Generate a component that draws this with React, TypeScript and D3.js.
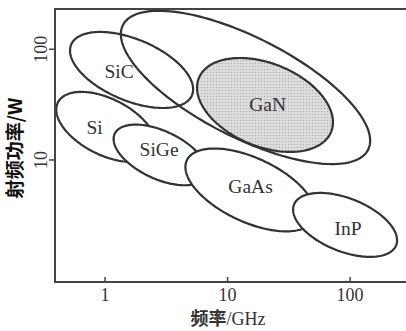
import React from 'react';
import * as d3 from 'd3';

const W = 406;
const H = 331;
const margin = { top: 9, right: 0, bottom: 49, left: 55 };

// axes (log-log)
const xDomain = [0.39, 286]; // GHz
const yDomain = [0.79, 231]; // W
const xTicks = [1, 10, 100];
const yTicks = [10, 100];

// regions, drawn back to front
const regionNames = ['GaN-range', 'SiC', 'GaN', 'Si', 'SiGe', 'GaAs', 'InP'];
const centerFreq = [14.0, 1.645, 20.2, 1.019, 2.81, 15.3, 91.0]; // GHz
const centerPower = [45.2, 65.0, 31.4, 19.9, 11.1, 5.36, 2.59]; // W
const spanMajor = [1.149, 0.544, 0.593, 0.452, 0.417, 0.583, 0.456]; // decades
const spanMinor = [0.441, 0.273, 0.369, 0.247, 0.212, 0.283, 0.236]; // decades
const tilt = [-30.2, -26.3, -26.8, -31.4, -28.9, -28.7, -25.3]; // deg in log-log plane

// labels
const labelText = ['SiC', 'GaN', 'Si', 'SiGe', 'GaAs', 'InP'];
const labelFreq = [1.3, 21.2, 0.821, 2.76, 15.4, 96.3];
const labelPower = [62.4, 31.7, 19.7, 12.3, 5.76, 2.41];

export default function App() {
  const x = d3.scaleLog().domain(xDomain).range([margin.left, W - margin.right]);
  const y = d3.scaleLog().domain(yDomain).range([H - margin.bottom, margin.top]);
  const line = d3.line().curve(d3.curveLinearClosed);

  const ellipsePath = (i) => {
    const cx = Math.log10(centerFreq[i]);
    const cy = Math.log10(centerPower[i]);
    const phi = (tilt[i] * Math.PI) / 180;
    const pts = d3.range(0, 2 * Math.PI, Math.PI / 90).map((t) => {
      const u = spanMajor[i] * Math.cos(t);
      const v = spanMinor[i] * Math.sin(t);
      const lx = cx + u * Math.cos(phi) - v * Math.sin(phi);
      const ly = cy + u * Math.sin(phi) + v * Math.cos(phi);
      return [x(10 ** lx), y(10 ** ly)];
    });
    return line(pts);
  };

  const fillFor = (name) => {
    if (name === 'GaN') return 'url(#ganDots)';
    if (name === 'GaN-range' || name === 'SiC') return 'none';
    return '#fff';
  };

  const x0 = margin.left;
  const x1 = W - margin.right;
  const y0 = margin.top;
  const y1 = H - margin.bottom;
  const serif = '"Liberation Serif", "Times New Roman", serif';
  const cjk = '"Noto Sans CJK SC", sans-serif';

  return (
    <svg width={W} height={H} style={{ position: 'absolute', left: 0, top: 0, background: '#fff' }}>
      <defs>
        <pattern id="ganDots" width="3" height="3" patternUnits="userSpaceOnUse">
          <rect width="3" height="3" fill="#dcdcdc" />
          <rect width="1" height="1" fill="#a9a9a9" />
        </pattern>
      </defs>

      {regionNames.map((name, i) => (
        <path key={name} d={ellipsePath(i)} fill={fillFor(name)} stroke="#333" strokeWidth={2.2} />
      ))}

      {labelText.map((t, i) => (
        <text
          key={t}
          x={x(labelFreq[i])}
          y={y(labelPower[i])}
          dy="0.33em"
          textAnchor="middle"
          fontFamily={serif}
          fontSize={19.5}
          fill="#333"
        >
          {t}
        </text>
      ))}

      {/* frame */}
      <g stroke="#444" strokeWidth={2} fill="none">
        <line x1={x0} y1={y0} x2={x0} y2={y1 + 1} />
        <line x1={x0 - 1} y1={y0} x2={x1} y2={y0} />
        <line x1={x0 - 1} y1={y1} x2={x1} y2={y1} />
      </g>

      {xTicks.map((t) => (
        <g key={t}>
          <line x1={x(t)} x2={x(t)} y1={y1} y2={y1 - 5} stroke="#444" strokeWidth={1.5} />
          <text x={x(t)} y={301} textAnchor="middle" fontFamily={serif} fontSize={18} fill="#333">
            {t}
          </text>
        </g>
      ))}

      {yTicks.map((t) => (
        <g key={t}>
          <line x1={x0} x2={x0 - 6} y1={y(t)} y2={y(t)} stroke="#444" strokeWidth={1.5} />
          <text
            transform={`translate(47,${y(t)}) rotate(-90)`}
            textAnchor="middle"
            fontFamily={serif}
            fontSize={18}
            fill="#333"
          >
            {t}
          </text>
        </g>
      ))}

      <text transform="translate(22,148) rotate(-90)" textAnchor="middle" fontFamily={cjk} fontWeight="bold" fontSize={19} fill="#111">
        射频功率/W
      </text>

      <text x={228} y={325} textAnchor="middle" fontSize={18} fill="#333">
        <tspan fontFamily={cjk} fontWeight="bold">频率</tspan>
        <tspan fontFamily={serif}>/GHz</tspan>
      </text>
    </svg>
  );
}
